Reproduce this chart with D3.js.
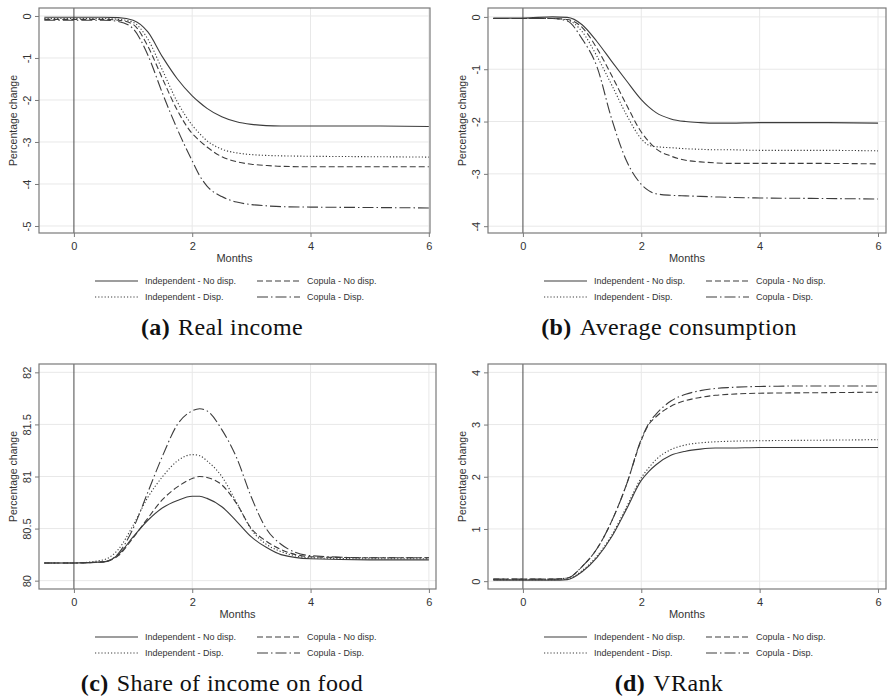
<!DOCTYPE html>
<html>
<head>
<meta charset="utf-8">
<script src="https://cdn.jsdelivr.net/npm/d3@7"></script>
<style>
  body { margin: 0; background: #fff; }
  svg { display: block; }
  text { font-family: "Liberation Sans", Arial, sans-serif; fill: #333; }
  text.caption { font-family: "Liberation Serif", "Times New Roman", serif; fill: #111; }
</style>
</head>
<body>
<svg id="chart" width="888" height="698"></svg>
<script>
// months after the shock (x axis), shared by every series
const months = [-0.5, 0, 0.5, 0.75, 1, 1.25, 1.5, 1.75, 2, 2.125, 2.25, 2.5, 2.75, 3, 3.25, 3.5, 4, 5, 6];

const seriesLabels = ["Independent - No disp.", "Independent - Disp.", "Copula - No disp.", "Copula - Disp."];

// (a) real income
const incomeIndNoDisp = [-0.03,-0.03,-0.03,-0.04,-0.1,-0.38,-0.98,-1.5,-1.9,-2.06,-2.2,-2.4,-2.52,-2.58,-2.61,-2.62,-2.62,-2.62,-2.63];
const incomeIndDisp   = [-0.06,-0.06,-0.06,-0.08,-0.15,-0.55,-1.3,-2.05,-2.6,-2.8,-2.97,-3.17,-3.26,-3.3,-3.32,-3.33,-3.34,-3.35,-3.36];
const incomeCopNoDisp = [-0.08,-0.08,-0.08,-0.1,-0.2,-0.72,-1.5,-2.25,-2.8,-2.97,-3.12,-3.35,-3.47,-3.53,-3.56,-3.58,-3.59,-3.59,-3.59];
const incomeCopDisp   = [-0.1,-0.1,-0.1,-0.13,-0.3,-0.93,-1.85,-2.7,-3.45,-3.8,-4.05,-4.3,-4.43,-4.49,-4.52,-4.54,-4.55,-4.56,-4.57];

// (b) average consumption
const consIndNoDisp = [-0.02,-0.02,0.0,-0.01,-0.15,-0.47,-0.85,-1.22,-1.58,-1.72,-1.83,-1.95,-2.0,-2.02,-2.03,-2.03,-2.02,-2.02,-2.03];
const consIndDisp   = [-0.03,-0.03,-0.03,-0.06,-0.28,-0.75,-1.3,-1.87,-2.33,-2.45,-2.48,-2.5,-2.52,-2.53,-2.54,-2.54,-2.55,-2.55,-2.56];
const consCopNoDisp = [-0.03,-0.03,-0.03,-0.05,-0.2,-0.6,-1.12,-1.68,-2.2,-2.38,-2.52,-2.66,-2.74,-2.77,-2.79,-2.8,-2.8,-2.8,-2.81];
const consCopDisp   = [-0.03,-0.03,-0.03,-0.08,-0.42,-0.95,-1.95,-2.75,-3.2,-3.32,-3.38,-3.41,-3.42,-3.43,-3.44,-3.45,-3.46,-3.47,-3.48];

// (c) share of income on food
const foodIndNoDisp = [80.17,80.17,80.18,80.25,80.42,80.58,80.7,80.77,80.81,80.81,80.79,80.71,80.57,80.42,80.32,80.25,80.21,80.2,80.2];
const foodIndDisp   = [80.17,80.17,80.2,80.3,80.53,80.8,81.0,81.15,81.21,81.2,81.15,81.0,80.75,80.49,80.35,80.28,80.22,80.21,80.21];
const foodCopNoDisp = [80.17,80.17,80.18,80.24,80.41,80.6,80.78,80.9,80.98,81.0,80.99,80.92,80.74,80.5,80.38,80.3,80.23,80.22,80.22];
const foodCopDisp   = [80.17,80.17,80.18,80.26,80.5,80.85,81.2,81.5,81.63,81.65,81.63,81.45,81.18,80.8,80.5,80.35,80.24,80.22,80.22];

// (d) VRank
const vrankIndNoDisp = [0.02,0.02,0.02,0.03,0.18,0.45,0.85,1.38,1.93,2.1,2.23,2.41,2.49,2.53,2.55,2.55,2.56,2.56,2.56];
const vrankIndDisp   = [0.03,0.03,0.03,0.04,0.2,0.48,0.88,1.42,1.98,2.17,2.33,2.52,2.61,2.65,2.67,2.68,2.69,2.7,2.71];
const vrankCopNoDisp = [0.04,0.04,0.04,0.06,0.28,0.62,1.15,1.85,2.7,3.0,3.15,3.35,3.46,3.52,3.56,3.58,3.6,3.61,3.62];
const vrankCopDisp   = [0.04,0.04,0.04,0.06,0.28,0.62,1.15,1.85,2.72,3.02,3.2,3.45,3.58,3.65,3.69,3.71,3.73,3.74,3.74];

const xTicks = [0, 2, 4, 6];
const incomeTicks = [0, -1, -2, -3, -4, -5];
const consTicks = [0, -1, -2, -3, -4];
const foodTicks = [80, 80.5, 81, 81.5, 82];
const vrankTicks = [0, 1, 2, 3, 4];

// line patterns in legend order (solid, dotted, dashed, dash-dot)
const dashes = [null, "1.2,2", "6,3", "11,3,1.5,3"];
const lineColor = "#3c3c3c";

const svg = d3.select("#chart");

function drawPanel(p) {
  const x = d3.scaleLinear().domain(p.xDomain).range([p.left, p.right]);
  const y = d3.scaleLinear().domain(p.yDomain).range([p.bottom, p.top]);
  const g = svg.append("g").attr("class", "panel");

  // grid lines
  g.selectAll("line.hgrid").data(p.yTicks).join("line")
    .attr("class", "hgrid")
    .attr("x1", p.left).attr("x2", p.right)
    .attr("y1", d => y(d)).attr("y2", d => y(d))
    .attr("stroke", "#e8e8e8").attr("stroke-width", 1);
  g.selectAll("line.vgrid").data(xTicks.filter(d => d !== 0)).join("line")
    .attr("class", "vgrid")
    .attr("x1", d => x(d)).attr("x2", d => x(d))
    .attr("y1", p.top).attr("y2", p.bottom)
    .attr("stroke", "#e8e8e8").attr("stroke-width", 1);

  // reference line at month 0
  g.append("line")
    .attr("x1", x(0)).attr("x2", x(0))
    .attr("y1", p.top).attr("y2", p.bottom)
    .attr("stroke", "#5a5a5a").attr("stroke-width", 1.1);

  const line = d3.line()
    .x((d, i) => x(months[i]))
    .y(d => y(d))
    .curve(d3.curveMonotoneX);

  p.series.forEach(function(s, i) {
    g.append("path")
      .datum(s)
      .attr("d", line)
      .attr("fill", "none")
      .attr("stroke", lineColor)
      .attr("stroke-width", 1.1)
      .attr("stroke-dasharray", dashes[i]);
  });

  // plot region frame
  g.append("rect")
    .attr("x", p.left).attr("y", p.top)
    .attr("width", p.right - p.left).attr("height", p.bottom - p.top)
    .attr("fill", "none").attr("stroke", "#7a7a7a").attr("stroke-width", 1.2);

  const xAxis = d3.axisBottom(x).tickValues(xTicks).tickSize(4).tickPadding(5)
    .tickFormat(d => String(d));
  const xg = g.append("g").attr("transform", "translate(0," + p.bottom + ")").call(xAxis);
  xg.select(".domain").remove();
  xg.selectAll("line").attr("stroke", "#7a7a7a");
  xg.selectAll("text").attr("font-size", 11).attr("fill", "#333")
    .attr("font-family", "Liberation Sans, Arial, sans-serif");

  const yAxis = d3.axisLeft(y).tickValues(p.yTicks).tickSize(4)
    .tickFormat(d => String(d));
  const yg = g.append("g").attr("transform", "translate(" + p.left + ",0)").call(yAxis);
  yg.select(".domain").remove();
  yg.selectAll("line").attr("stroke", "#7a7a7a");
  yg.selectAll("text")
    .attr("x", 0).attr("dy", 0)
    .attr("text-anchor", "middle")
    .attr("transform", "translate(-8,0) rotate(-90)")
    .attr("font-size", 11).attr("fill", "#333")
    .attr("font-family", "Liberation Sans, Arial, sans-serif");

  // axis titles
  g.append("text")
    .attr("x", (p.left + p.right) / 2)
    .attr("y", p.bottom + 28.5)
    .attr("text-anchor", "middle")
    .attr("font-size", 11)
    .text("Months");
  g.append("text")
    .attr("transform", "translate(" + (p.left - 22.5) + "," + ((p.top + p.bottom) / 2) + ") rotate(-90)")
    .attr("text-anchor", "middle")
    .attr("font-size", 10.5)
    .text("Percentage change");

  // legend: two columns, two rows
  const legendCells = [
    {i: 0, col: 0, row: 0}, {i: 2, col: 1, row: 0},
    {i: 1, col: 0, row: 1}, {i: 3, col: 1, row: 1}
  ];
  const lg = g.append("g")
    .attr("transform", "translate(" + p.left + "," + (p.bottom + 48) + ")");
  legendCells.forEach(function(c) {
    const lx = 56 + c.col * 162;
    const ly = c.row * 16;
    lg.append("line")
      .attr("x1", lx).attr("x2", lx + 43)
      .attr("y1", ly).attr("y2", ly)
      .attr("stroke", lineColor).attr("stroke-width", 1.1)
      .attr("stroke-dasharray", dashes[c.i]);
    lg.append("text")
      .attr("x", lx + 50).attr("y", ly + 3.3)
      .attr("font-size", 9)
      .text(seriesLabels[c.i]);
  });

  // sub-figure caption
  const cap = svg.append("text")
    .attr("class", "caption")
    .attr("x", p.capX).attr("y", p.bottom + 102)
    .attr("text-anchor", "middle")
    .attr("font-size", 24)
    .attr("letter-spacing", 0.4);
  cap.append("tspan").attr("font-weight", "bold").text(p.tag);
  cap.append("tspan").attr("dx", 8).text(p.caption);
}

drawPanel({
  left: 39, right: 430, top: 8, bottom: 233,
  xDomain: [-0.59, 6.02], yDomain: [-5.167, 0.19], yTicks: incomeTicks,
  series: [incomeIndNoDisp, incomeIndDisp, incomeCopNoDisp, incomeCopDisp],
  capX: 222, tag: "(a)", caption: "Real income"
});
drawPanel({
  left: 488, right: 886, top: 8, bottom: 233,
  xDomain: [-0.59, 6.135], yDomain: [-4.13, 0.17], yTicks: consTicks,
  series: [consIndNoDisp, consIndDisp, consCopNoDisp, consCopDisp],
  capX: 669, tag: "(b)", caption: "Average consumption"
});
drawPanel({
  left: 39, right: 436, top: 364, bottom: 589,
  xDomain: [-0.59, 6.12], yDomain: [79.92, 82.08], yTicks: foodTicks,
  series: [foodIndNoDisp, foodIndDisp, foodCopNoDisp, foodCopDisp],
  capX: 222, tag: "(c)", caption: "Share of income on food"
});
drawPanel({
  left: 488, right: 886, top: 364, bottom: 589,
  xDomain: [-0.59, 6.135], yDomain: [-0.15, 4.16], yTicks: vrankTicks,
  series: [vrankIndNoDisp, vrankIndDisp, vrankCopNoDisp, vrankCopDisp],
  capX: 669, tag: "(d)", caption: "VRank"
});
</script>
</body>
</html>
